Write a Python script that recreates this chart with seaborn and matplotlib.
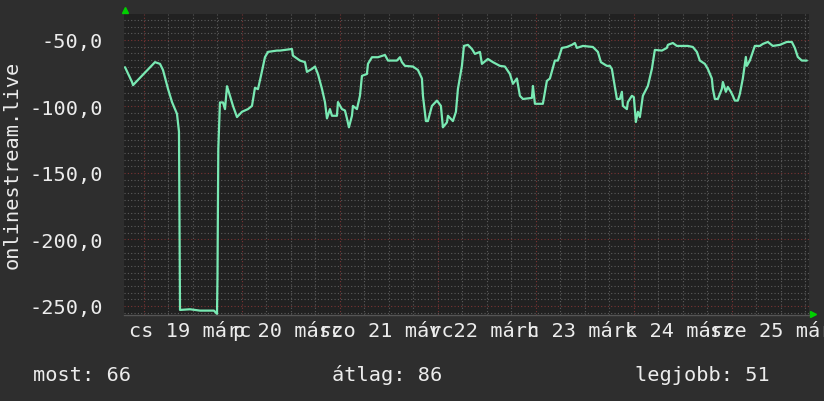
# rrd-style weekly ping graph, onlinestream.live
import numpy as np
import pandas as pd
import matplotlib
matplotlib.use("Agg")
import matplotlib.pyplot as plt
import seaborn as sns

# hours since 19 march 00:00
hours = [-4.65, -2.94, -2.69, -1.71, 0.73, 2.69, 3.92, 4.65, 5.88, 6.86, 8.08, 8.57,
         8.82, 11.27, 13.71, 17.14, 17.88, 18.0, 18.2, 18.6, 19.35, 19.84, 20.33, 21.06,
         21.8, 22.78, 24.0, 25.47, 26.45, 27.18, 27.92, 28.65, 29.63, 30.37, 32.57, 33.31,
         36.24, 36.49, 38.2, 39.43, 39.92, 41.14, 41.88, 42.61, 43.59, 44.33, 44.82, 45.55,
         46.04, 47.27, 47.51, 48.49, 49.22, 49.71, 50.2, 50.94, 51.18, 52.16, 52.9, 53.39,
         54.61, 54.86, 55.84, 57.31, 59.02, 59.76, 61.96, 62.69, 63.18, 63.92, 65.88, 67.1,
         68.08, 68.33, 69.06, 69.55, 70.53, 71.76, 72.73, 73.22, 74.2, 74.45, 75.67, 76.41,
         76.9, 77.88, 78.37, 79.35, 80.33, 81.06, 82.29, 82.78, 84.24, 85.47, 87.18, 88.41,
         89.63, 90.37, 91.35, 92.08, 92.82, 95.02, 95.27, 95.76, 97.71, 98.69, 99.43, 100.65,
         101.39, 102.37, 103.59, 104.82, 105.55, 106.04, 107.51, 109.96, 111.18, 111.92, 113.39, 114.12,
         114.61, 115.35, 115.84, 116.57, 117.06, 117.31, 118.29, 118.53, 119.51, 120.0, 120.49, 120.98,
         121.47, 122.2, 123.43, 124.41, 125.14, 126.86, 128.08, 128.33, 129.55, 130.53, 133.22, 134.45,
         135.43, 136.16, 137.39, 138.12, 139.1, 139.35, 139.84, 140.57, 141.55, 141.8, 142.53, 143.02,
         143.76, 144.24, 144.73, 145.47, 145.96, 146.69, 147.43, 147.67, 148.41, 149.63, 150.86, 151.59,
         152.82, 154.04, 155.76, 157.47, 158.69, 159.43, 160.16, 161.14, 162.37]

ping = [-70.5, -81.6, -84, -80.8, -73, -66.7, -68, -72.6, -86.8, -96.7, -105.6, -119,
        -253, -252.5, -253.5, -253.5, -256, -228, -132, -97, -97, -102, -84.8, -92,
        -99.6, -108, -104, -102, -99.6, -86, -87, -77, -63, -59, -58, -58,
        -56.8, -61.8, -65.5, -66.7, -74, -71.8, -70, -75.6, -86.8, -96.7, -109, -102,
        -107, -107, -96.7, -102, -103, -109, -115.7, -107, -99.6, -102, -92, -77,
        -75.6, -68, -63, -63, -61.3, -65.5, -65.5, -63, -66.7, -69.5, -70, -72.6,
        -79, -92, -111, -111, -99.6, -95.6, -99.6, -115.7, -112, -107, -111, -104,
        -86.8, -69.5, -54.5, -53.7, -56.8, -60.5, -59, -68, -64.3, -66.7, -69.5, -70,
        -75.6, -83, -79, -92, -94.4, -93.6, -84.6, -98, -98, -80.8, -79, -65.5,
        -65.5, -56, -55.3, -53.7, -52.3, -56, -54.5, -55.3, -59, -66.7, -69.5, -69.5,
        -71.8, -85.3, -94.4, -94.4, -89, -99.6, -102, -96.7, -92, -93, -111.7, -104,
        -108, -92, -84.6, -71.8, -57.5, -58, -56, -53.7, -52.3, -54.5, -54.5, -55.3,
        -59, -65.5, -68, -71.8, -79, -86.8, -94.4, -94.4, -86.8, -81.6, -89, -85.3,
        -89, -92, -95.6, -95.6, -90.6, -79, -62.8, -69.5, -65.5, -54.5, -54.5, -53,
        -51.5, -54.5, -53.7, -51.5, -51.5, -56, -62.8, -65.5, -65.5]

day_labels = ["cs 19 márc", "p 20 márc", "szo 21 márc", "v 22 márc",
              "h 23 márc", "k 24 márc", "sze 25 márc"]
y_ticks = [-50, -100, -150, -200, -250]
summary = {"most": 66, "átlag": 86, "legjobb": 51}

df = pd.DataFrame({"hour": hours, "ping": ping})

# -------------------------------
# style
# -------------------------------
sns.set_style("dark")
BG = "#2e2e2e"
PLOT_BG = "#212121"
TXT = "#ececec"
plt.rcParams["font.family"] = ["DejaVu Sans Mono", "DejaVu Sans"]
FS = 14.6

fig = plt.figure(figsize=(8.24, 4.02), dpi=100, facecolor=BG)
ax = fig.add_axes([124 / 824, 86 / 402, 685 / 824, 301 / 402])
ax.set_facecolor(PLOT_BG)

ax.set_xlim(-4.9, 162.9)
ax.set_ylim(-256.8, -30.5)

# grid: grey every 6h / 5 units, red every day / 50 units
ax.set_xticks(np.arange(0, 163, 24))
ax.set_xticks(np.arange(0, 163, 6), minor=True)
ax.set_yticks(y_ticks)
ax.set_yticks(np.arange(-255, -30, 5), minor=True)
ax.grid(which="minor", color="#5c5c5c", linestyle=(0, (1, 2)), linewidth=0.8)
ax.grid(which="major", color="#7a3434", linestyle=(0, (1, 2)), linewidth=0.8)
ax.set_axisbelow(True)

sns.lineplot(data=df, x="hour", y="ping", ax=ax, color="#79e9b3",
             linewidth=1.6, estimator=None, sort=False)

ax.set_xlabel("")
ax.set_ylabel("")
ax.set_xticklabels([])
ax.set_yticklabels([f"{v},0" for v in y_ticks], color=TXT, fontsize=FS)
ax.tick_params(axis="both", which="both", length=0)
ax.tick_params(axis="y", pad=15)

for s in ["top", "right", "left"]:
    ax.spines[s].set_visible(False)
ax.spines["bottom"].set_color("#555555")
ax.spines["bottom"].set_linewidth(1)

# day labels at noon
for i, lab in enumerate(day_labels):
    ax.annotate(lab, xy=(12 + 24 * i, 0), xycoords=("data", "axes fraction"),
                xytext=(-3, -21), textcoords="offset pixels", ha="center",
                va="baseline", color=TXT, fontsize=FS, annotation_clip=False)

# rrd arrows
ax.plot([0.001], [1.014], transform=ax.transAxes, marker="^", color="#00d000",
        markersize=5, clip_on=False)
ax.plot([1.006], [0.003], transform=ax.transAxes, marker=">", color="#00d000",
        markersize=5, clip_on=False)

fig.text(12 / 824, 0.59, "onlinestream.live", rotation=90, ha="center",
         va="center", color=TXT, fontsize=FS)

fig.text(33 / 824, 0.053, f"most: {summary['most']}", color=TXT, fontsize=FS)
fig.text(332 / 824, 0.053, f"átlag: {summary['átlag']}", color=TXT, fontsize=FS)
fig.text(635 / 824, 0.053, f"legjobb: {summary['legjobb']}", color=TXT, fontsize=FS)

fig.savefig("out.png", dpi=100, facecolor=BG)
